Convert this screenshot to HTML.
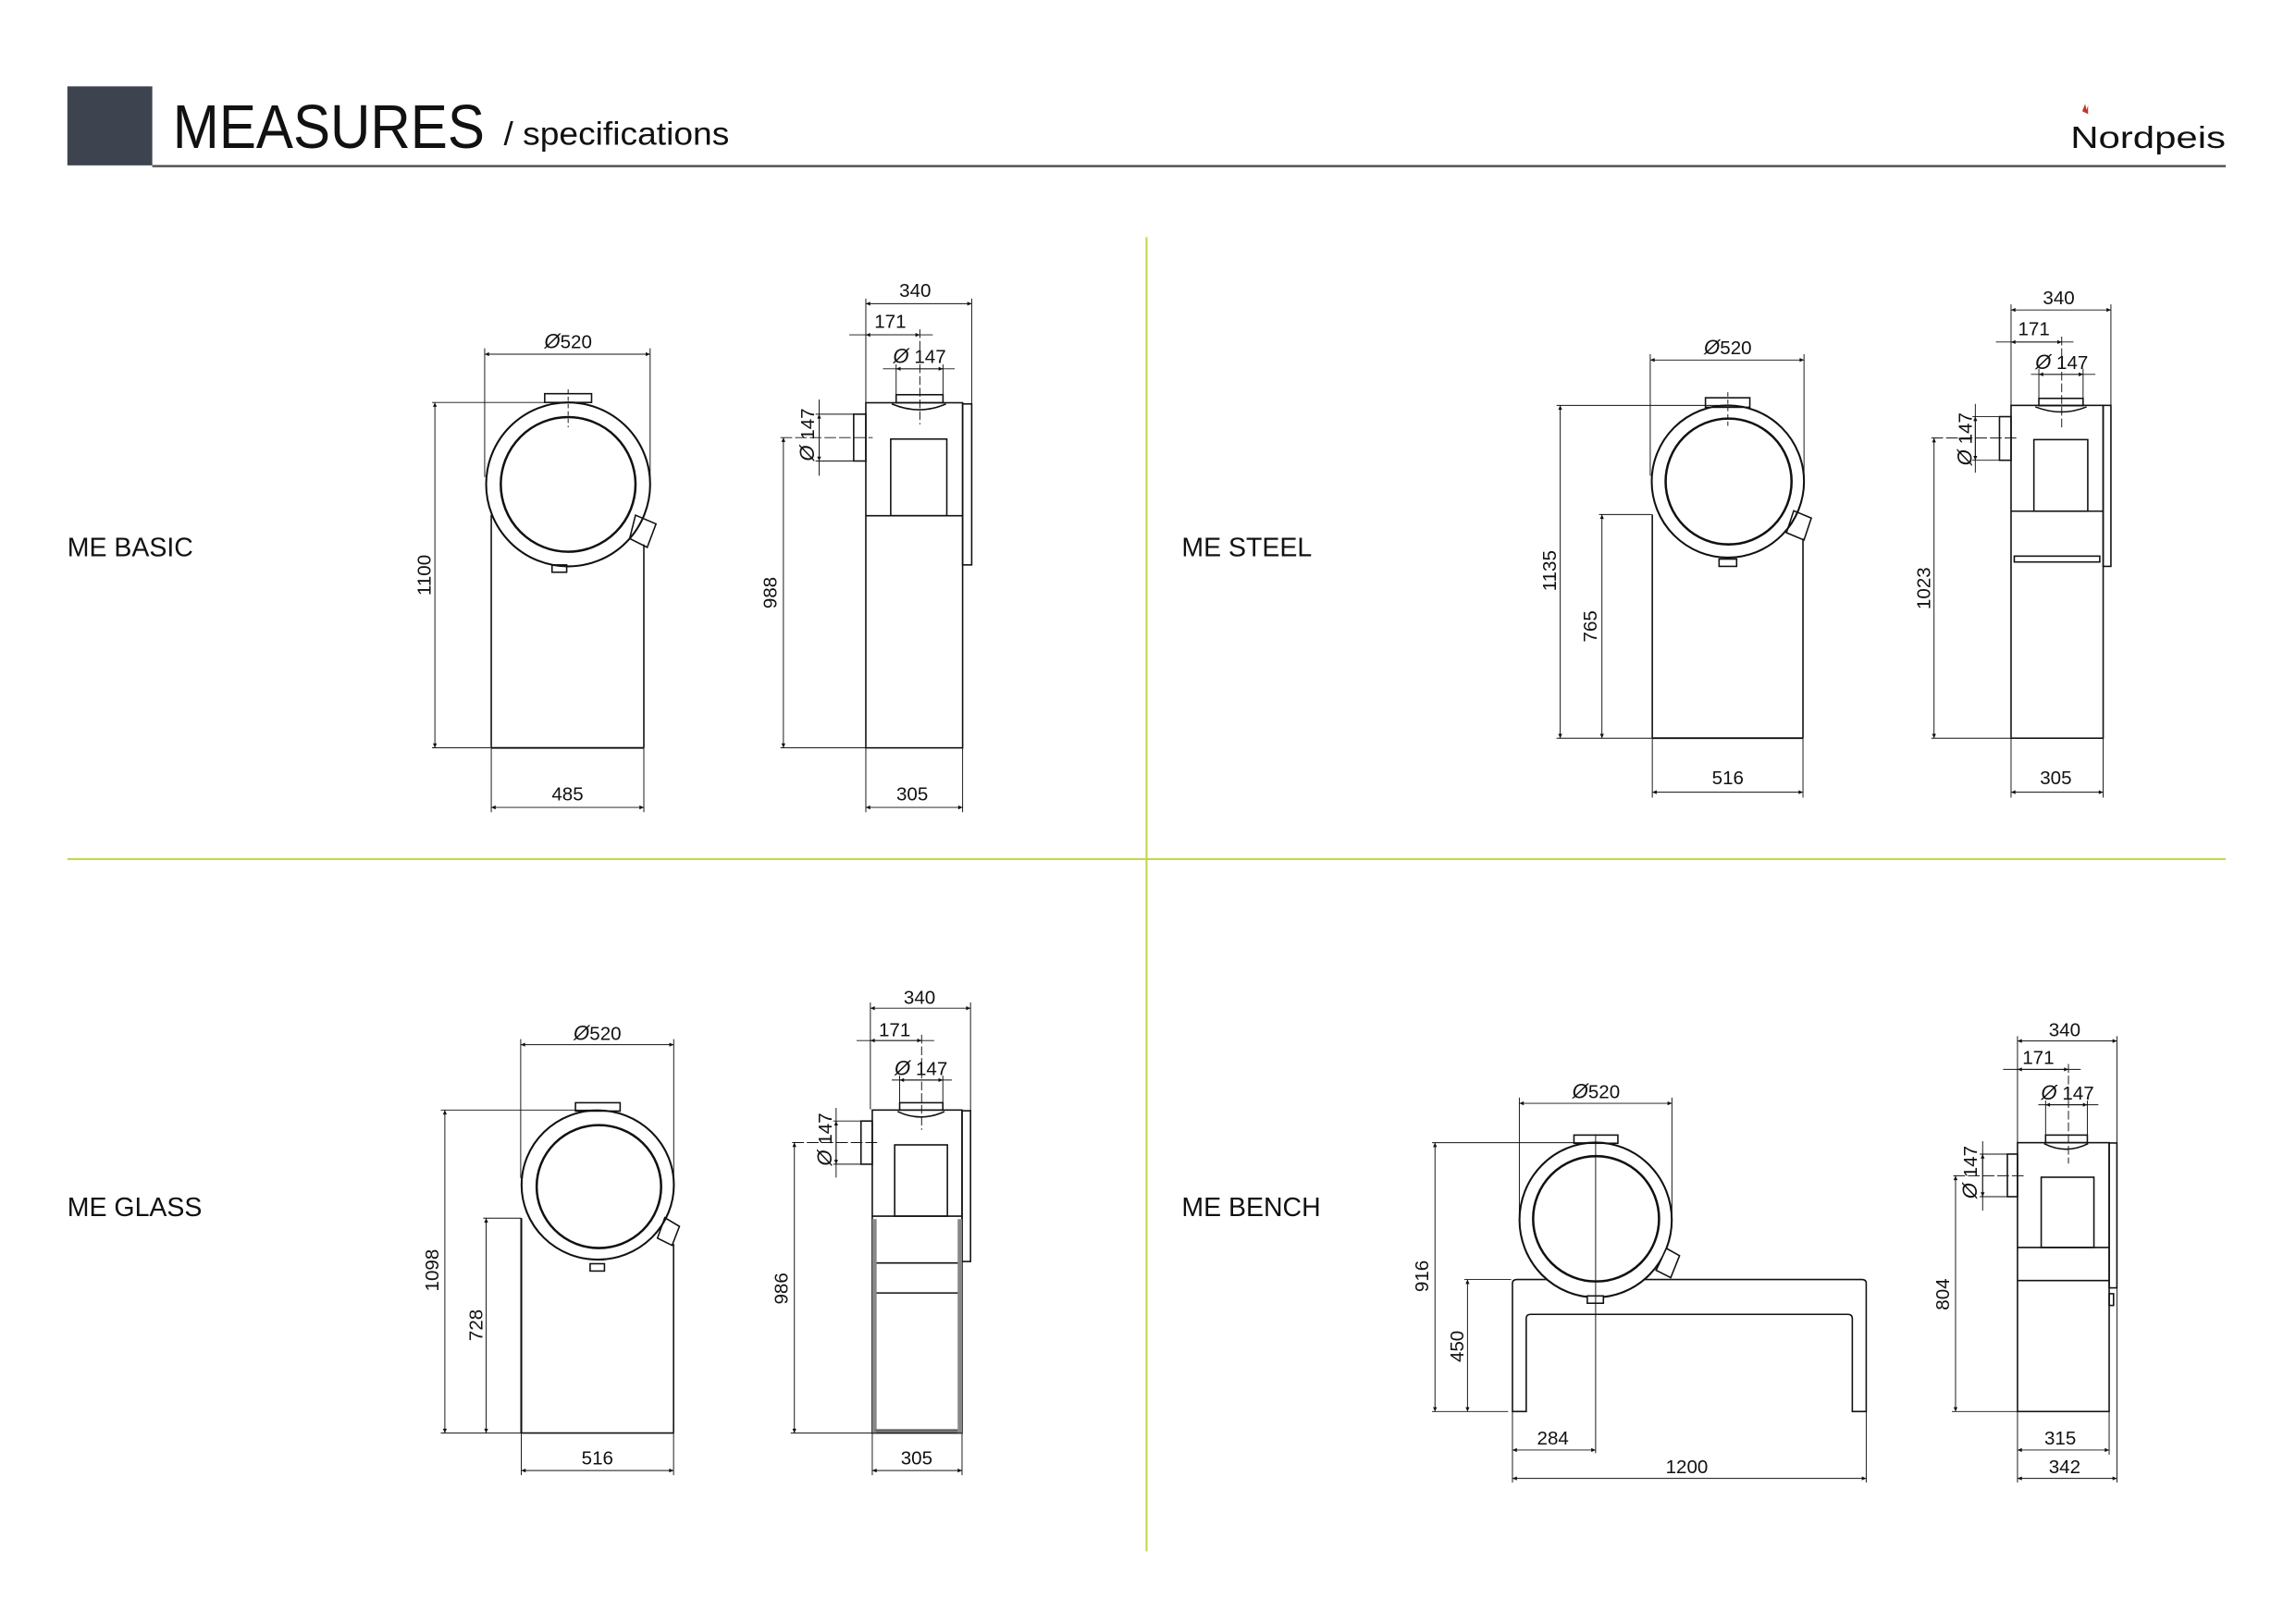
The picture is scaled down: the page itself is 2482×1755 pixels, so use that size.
<!DOCTYPE html>
<html><head><meta charset="utf-8"><style>
html,body{margin:0;padding:0;background:#fff;}
svg{display:block;}
text{font-family:"Liberation Sans","DejaVu Sans",sans-serif;fill:#111;}
.d{font-size:13px;}
.l{font-size:18px;}
.o{font-style:italic;font-size:14px;}
</style></head><body>
<svg width="2482" height="1755" viewBox="0 0 1568 1109" preserveAspectRatio="none" xmlns="http://www.w3.org/2000/svg">
<defs>
<marker id="a" viewBox="0 0 10 10" refX="10" refY="5" markerWidth="6" markerHeight="3" orient="auto-start-reverse" markerUnits="userSpaceOnUse"><path d="M0,0.5 L10,5 L0,9.5z" fill="#111"/></marker>
</defs>
<rect width="1568" height="1109" fill="#fff"/>
<!-- header -->
<rect x="46" y="59" width="58" height="54" fill="#3d4450"/>
<line x1="104" y1="113.5" x2="1520" y2="113.5" stroke="#555" stroke-width="1.6"/>
<text x="118" y="101" font-size="42" textLength="213" lengthAdjust="spacingAndGlyphs">MEASURES</text>
<text x="344" y="99" font-size="22" textLength="154" lengthAdjust="spacingAndGlyphs">/ specifications</text>
<text x="1414" y="101" font-size="21" textLength="106" lengthAdjust="spacingAndGlyphs" fill="#333">Nordpeis</text>
<path d="M1422,76 l2,-5 l1,4 l1,-3 l0,6z" fill="#c0392b"/>
<!-- dividers -->
<line x1="783" y1="162" x2="783" y2="1060" stroke="#c5d64a" stroke-width="1.3"/>
<line x1="46" y1="587" x2="1520" y2="587" stroke="#c5d64a" stroke-width="1.3"/>
<!-- labels -->
<text class="l" x="46" y="380">ME BASIC</text>
<text class="l" x="807" y="380">ME STEEL</text>
<text class="l" x="46" y="831">ME GLASS</text>
<text class="l" x="807" y="831">ME BENCH</text>

<g stroke="#111" fill="none" stroke-width="0.6">
<!-- ===== BASIC front ===== -->
<line x1="331" y1="242" x2="444" y2="242" marker-start="url(#a)" marker-end="url(#a)"/>
<line x1="331" y1="238" x2="331" y2="326"/><line x1="444" y1="238" x2="444" y2="330"/>
<line x1="297" y1="275" x2="297" y2="511" marker-start="url(#a)" marker-end="url(#a)"/>
<line x1="295" y1="275" x2="380" y2="275"/><line x1="295" y1="511" x2="335" y2="511"/>
<line x1="335.5" y1="551.7" x2="439.7" y2="551.7" marker-start="url(#a)" marker-end="url(#a)"/>
<line x1="335.5" y1="511" x2="335.5" y2="555"/><line x1="439.7" y1="511" x2="439.7" y2="555"/>
<g stroke-width="1">
<circle cx="388" cy="331" r="56" stroke-width="1.3"/>
<circle cx="388" cy="331" r="46" stroke-width="1.6"/>
<rect x="372" y="269" width="32" height="6"/>
<line x1="335.5" y1="352" x2="335.5" y2="511"/><line x1="439.7" y1="372" x2="439.7" y2="511"/>
<line x1="335.5" y1="511" x2="439.7" y2="511" stroke-width="1.2"/>
<polygon points="434,352 448,358 442,374 430,368"/>
<rect x="377" y="386" width="10" height="5"/>
</g>
<line x1="388" y1="266" x2="388" y2="292" stroke-dasharray="3,2"/>
<!-- ===== BASIC side ===== -->
<line x1="591.3" y1="207.5" x2="663.6" y2="207.5" marker-start="url(#a)" marker-end="url(#a)"/>
<line x1="591.3" y1="204" x2="591.3" y2="275"/><line x1="663.6" y1="204" x2="663.6" y2="276"/>
<line x1="580" y1="228.8" x2="637" y2="228.8"/>
<line x1="591.3" y1="228.8" x2="628.2" y2="228.8" marker-start="url(#a)" marker-end="url(#a)"/>
<line x1="628.2" y1="225" x2="628.2" y2="290" stroke-dasharray="6,2"/>
<line x1="603" y1="252" x2="652" y2="252"/>
<line x1="612" y1="252" x2="644" y2="252" marker-start="url(#a)" marker-end="url(#a)"/>
<line x1="612" y1="249" x2="612" y2="270"/><line x1="644" y1="249" x2="644" y2="270"/>
<line x1="557" y1="283" x2="583" y2="283"/><line x1="557" y1="315" x2="583" y2="315"/>
<line x1="559.4" y1="273" x2="559.4" y2="325"/>
<line x1="559.4" y1="283" x2="559.4" y2="315" marker-start="url(#a)" marker-end="url(#a)"/>
<line x1="533" y1="299" x2="596" y2="299" stroke-dasharray="8,2"/>
<line x1="535" y1="299" x2="535" y2="511" marker-start="url(#a)" marker-end="url(#a)"/>
<line x1="533" y1="511" x2="591" y2="511"/>
<line x1="591.3" y1="551.7" x2="657.4" y2="551.7" marker-start="url(#a)" marker-end="url(#a)"/>
<line x1="591.3" y1="511" x2="591.3" y2="555"/><line x1="657.4" y1="511" x2="657.4" y2="555"/>
<g stroke-width="1">
<rect x="612" y="269.7" width="32" height="5.5"/>
<rect x="591.3" y="275.2" width="66.1" height="235.8"/>
<rect x="657.4" y="276" width="6.2" height="110"/>
<line x1="591.3" y1="352.4" x2="657.4" y2="352.4"/>
<rect x="608.3" y="300" width="38.3" height="52.4"/>
<rect x="583" y="283" width="8.3" height="32"/>
<path d="M609,276 Q628,284 646,276"/>
</g>
<!-- ===== STEEL front ===== -->
<line x1="1127" y1="246" x2="1232" y2="246" marker-start="url(#a)" marker-end="url(#a)"/>
<line x1="1127" y1="242" x2="1127" y2="325"/><line x1="1232" y1="242" x2="1232" y2="330"/>
<line x1="1065.5" y1="277" x2="1065.5" y2="504.4" marker-start="url(#a)" marker-end="url(#a)"/>
<line x1="1063" y1="277" x2="1179" y2="277"/><line x1="1063" y1="504.4" x2="1128" y2="504.4"/>
<line x1="1094" y1="351.6" x2="1094" y2="504.4" marker-start="url(#a)" marker-end="url(#a)"/>
<line x1="1092" y1="351.6" x2="1128" y2="351.6"/>
<line x1="1128.4" y1="541.3" x2="1231.3" y2="541.3" marker-start="url(#a)" marker-end="url(#a)"/>
<line x1="1128.4" y1="504.4" x2="1128.4" y2="545"/><line x1="1231.3" y1="504.4" x2="1231.3" y2="545"/>
<g stroke-width="1">
<circle cx="1180" cy="329" r="52" stroke-width="1.3"/>
<circle cx="1180.5" cy="329" r="43" stroke-width="1.6"/>
<rect x="1164.7" y="271.8" width="30.3" height="6.5"/>
<line x1="1128.4" y1="351.6" x2="1128.4" y2="504.4"/><line x1="1231.3" y1="368" x2="1231.3" y2="504.4"/>
<line x1="1128.4" y1="504.4" x2="1231.3" y2="504.4" stroke-width="1.2"/>
<polygon points="1225,349 1237,354 1232,369 1220,364"/>
<rect x="1174" y="382" width="12" height="5"/>
</g>
<line x1="1180" y1="268" x2="1180" y2="292" stroke-dasharray="3,2"/>
<!-- ===== STEEL side ===== -->
<line x1="1373.4" y1="211.8" x2="1441.6" y2="211.8" marker-start="url(#a)" marker-end="url(#a)"/>
<line x1="1373.4" y1="208" x2="1373.4" y2="277"/><line x1="1441.6" y1="208" x2="1441.6" y2="278"/>
<line x1="1363" y1="233.7" x2="1416" y2="233.7"/>
<line x1="1373.4" y1="233.7" x2="1408" y2="233.7" marker-start="url(#a)" marker-end="url(#a)"/>
<line x1="1408" y1="230" x2="1408" y2="292" stroke-dasharray="6,2"/>
<line x1="1387" y1="255.8" x2="1431" y2="255.8"/>
<line x1="1392.4" y1="255.8" x2="1422.6" y2="255.8" marker-start="url(#a)" marker-end="url(#a)"/>
<line x1="1392.4" y1="252" x2="1392.4" y2="272"/><line x1="1422.6" y1="252" x2="1422.6" y2="272"/>
<line x1="1347" y1="284.7" x2="1365.5" y2="284.7"/><line x1="1347" y1="314.5" x2="1365.5" y2="314.5"/>
<line x1="1349" y1="276" x2="1349" y2="323"/>
<line x1="1349" y1="284.7" x2="1349" y2="314.5" marker-start="url(#a)" marker-end="url(#a)"/>
<line x1="1319" y1="299.3" x2="1377" y2="299.3" stroke-dasharray="8,2"/>
<line x1="1320.8" y1="299.3" x2="1320.8" y2="504.4" marker-start="url(#a)" marker-end="url(#a)"/>
<line x1="1319" y1="504.4" x2="1373" y2="504.4"/>
<line x1="1373.4" y1="541.3" x2="1436.3" y2="541.3" marker-start="url(#a)" marker-end="url(#a)"/>
<line x1="1373.4" y1="504.4" x2="1373.4" y2="545"/><line x1="1436.3" y1="504.4" x2="1436.3" y2="545"/>
<g stroke-width="1">
<rect x="1392.4" y="272.2" width="30.2" height="5"/>
<rect x="1373.4" y="277" width="62.9" height="227.4"/>
<rect x="1436.3" y="277" width="5.3" height="110"/>
<line x1="1373.4" y1="349.3" x2="1436.3" y2="349.3"/>
<rect x="1375.6" y="380" width="58.4" height="4"/>
<rect x="1389" y="300.4" width="36.8" height="48.9"/>
<rect x="1365.5" y="284.7" width="7.9" height="29.8"/>
<path d="M1390,278 Q1408,285 1425,278"/>
</g>
<!-- ===== GLASS front ===== -->
<line x1="355.6" y1="713.8" x2="460.1" y2="713.8" marker-start="url(#a)" marker-end="url(#a)"/>
<line x1="355.6" y1="710" x2="355.6" y2="805"/><line x1="460.1" y1="710" x2="460.1" y2="810"/>
<line x1="303.8" y1="758.5" x2="303.8" y2="979.2" marker-start="url(#a)" marker-end="url(#a)"/>
<line x1="301" y1="758.5" x2="405" y2="758.5"/><line x1="301" y1="979.2" x2="356" y2="979.2"/>
<line x1="332" y1="832.4" x2="332" y2="979.2" marker-start="url(#a)" marker-end="url(#a)"/>
<line x1="330" y1="832.4" x2="356" y2="832.4"/>
<line x1="356" y1="1004.8" x2="460" y2="1004.8" marker-start="url(#a)" marker-end="url(#a)"/>
<line x1="356" y1="979.2" x2="356" y2="1008"/><line x1="460" y1="979.2" x2="460" y2="1008"/>
<g stroke-width="1">
<ellipse cx="408.2" cy="809.7" rx="52" ry="51" stroke-width="1.3"/>
<ellipse cx="409" cy="810.8" rx="42.5" ry="42" stroke-width="1.6"/>
<rect x="393" y="753.5" width="30.5" height="5.7"/>
<line x1="356" y1="832.4" x2="356" y2="979.2" stroke-width="1.3"/><line x1="460" y1="850" x2="460" y2="979.2"/>
<line x1="356" y1="979.2" x2="460" y2="979.2"/>
<polygon points="454,832 464,838 459,851 449,846"/>
<rect x="403" y="863.5" width="9.8" height="5"/>
</g>
<!-- ===== GLASS side ===== -->
<line x1="594.4" y1="688.9" x2="662.8" y2="688.9" marker-start="url(#a)" marker-end="url(#a)"/>
<line x1="594.4" y1="685" x2="594.4" y2="758"/><line x1="662.8" y1="685" x2="662.8" y2="759"/>
<line x1="585" y1="711" x2="638" y2="711"/>
<line x1="594.4" y1="711" x2="629.4" y2="711" marker-start="url(#a)" marker-end="url(#a)"/>
<line x1="629.4" y1="707" x2="629.4" y2="772" stroke-dasharray="6,2"/>
<line x1="609" y1="738" x2="650" y2="738"/>
<line x1="614.4" y1="738" x2="643.9" y2="738" marker-start="url(#a)" marker-end="url(#a)"/>
<line x1="614.4" y1="735" x2="614.4" y2="754"/><line x1="643.9" y1="735" x2="643.9" y2="754"/>
<line x1="569" y1="766" x2="588" y2="766"/><line x1="569" y1="795.5" x2="588" y2="795.5"/>
<line x1="571" y1="757" x2="571" y2="804.6"/>
<line x1="571" y1="766" x2="571" y2="795.5" marker-start="url(#a)" marker-end="url(#a)"/>
<line x1="541" y1="780.7" x2="600" y2="780.7" stroke-dasharray="8,2"/>
<line x1="542.5" y1="780.7" x2="542.5" y2="979.2" marker-start="url(#a)" marker-end="url(#a)"/>
<line x1="540" y1="979.2" x2="596" y2="979.2"/>
<line x1="595.7" y1="1004.8" x2="657" y2="1004.8" marker-start="url(#a)" marker-end="url(#a)"/>
<line x1="595.7" y1="979.2" x2="595.7" y2="1008"/><line x1="657" y1="979.2" x2="657" y2="1008"/>
<g stroke-width="1">
<rect x="614.4" y="753.5" width="29.5" height="5"/>
<rect x="595.7" y="758.5" width="61.3" height="220.7"/>
<rect x="657" y="759" width="5.8" height="103"/>
<line x1="595.7" y1="831" x2="657" y2="831"/>
<rect x="611" y="782.3" width="36" height="48.7"/>
<line x1="597" y1="863" x2="655" y2="863"/>
<line x1="597" y1="883.5" x2="655" y2="883.5"/>
<rect x="588" y="766" width="7.7" height="29.5"/>
<path d="M613,759.5 Q629,767 645,759.5"/>
</g>
<rect x="595.7" y="833" width="3" height="146" fill="#888" stroke="none"/>
<rect x="654" y="833" width="3" height="146" fill="#888" stroke="none"/>
<rect x="598" y="976.5" width="56" height="2" fill="#666" stroke="none"/>
<!-- ===== BENCH front ===== -->
<line x1="1037.6" y1="753.9" x2="1141.8" y2="753.9" marker-start="url(#a)" marker-end="url(#a)"/>
<line x1="1037.6" y1="750" x2="1037.6" y2="830"/><line x1="1141.8" y1="750" x2="1141.8" y2="835"/>
<line x1="980" y1="780.8" x2="980" y2="964.5" marker-start="url(#a)" marker-end="url(#a)"/>
<line x1="978" y1="780.8" x2="1086" y2="780.8"/><line x1="978" y1="964.5" x2="1030" y2="964.5"/>
<line x1="1002.2" y1="874.3" x2="1002.2" y2="964.5" marker-start="url(#a)" marker-end="url(#a)"/>
<line x1="1000" y1="874.3" x2="1032" y2="874.3"/>
<line x1="1032.9" y1="990.8" x2="1089.7" y2="990.8" marker-start="url(#a)" marker-end="url(#a)"/>
<line x1="1032.9" y1="1010.2" x2="1274.5" y2="1010.2" marker-start="url(#a)" marker-end="url(#a)"/>
<line x1="1032.9" y1="964.5" x2="1032.9" y2="1013"/><line x1="1274.5" y1="964.5" x2="1274.5" y2="1013"/>
<g stroke-width="1">
<path d="M1032.9,964.5 L1032.9,877 Q1032.9,874.3 1036,874.3 L1271.5,874.3 Q1274.5,874.3 1274.5,877 L1274.5,964.5 L1265,964.5 L1265,901 Q1265,898.1 1262,898.1 L1045.3,898.1 Q1042.3,898.1 1042.3,901 L1042.3,964.5 Z" fill="#fff"/>
<ellipse cx="1089.7" cy="833.6" rx="52" ry="52.9" stroke-width="1.3" fill="#fff"/>
<ellipse cx="1090" cy="832.8" rx="43" ry="42.8" stroke-width="1.6"/>
<rect x="1074.9" y="775.6" width="30" height="5.6"/>
<polygon points="1138,853 1147,858 1141,873 1131,868" fill="#fff"/>
<rect x="1084" y="885.5" width="11" height="5" fill="#fff"/>
</g>
<line x1="1089.7" y1="775" x2="1089.7" y2="993"/>
<!-- ===== BENCH side ===== -->
<line x1="1377.8" y1="711.3" x2="1445.7" y2="711.3" marker-start="url(#a)" marker-end="url(#a)"/>
<line x1="1377.8" y1="708" x2="1377.8" y2="781"/><line x1="1445.7" y1="708" x2="1445.7" y2="781"/>
<line x1="1368" y1="730.7" x2="1421" y2="730.7"/>
<line x1="1377.8" y1="730.7" x2="1412.6" y2="730.7" marker-start="url(#a)" marker-end="url(#a)"/>
<line x1="1412.6" y1="727" x2="1412.6" y2="795" stroke-dasharray="6,2"/>
<line x1="1392" y1="754.9" x2="1433" y2="754.9"/>
<line x1="1397" y1="754.9" x2="1425.5" y2="754.9" marker-start="url(#a)" marker-end="url(#a)"/>
<line x1="1397" y1="752" x2="1397" y2="776"/><line x1="1425.5" y1="752" x2="1425.5" y2="776"/>
<line x1="1352" y1="788.6" x2="1371" y2="788.6"/><line x1="1352" y1="817.7" x2="1371" y2="817.7"/>
<line x1="1354" y1="779.8" x2="1354" y2="827.2"/>
<line x1="1354" y1="788.6" x2="1354" y2="817.7" marker-start="url(#a)" marker-end="url(#a)"/>
<line x1="1334" y1="803.4" x2="1382" y2="803.4" stroke-dasharray="8,2"/>
<line x1="1335.5" y1="803.4" x2="1335.5" y2="964.5" marker-start="url(#a)" marker-end="url(#a)"/>
<line x1="1333" y1="964.5" x2="1378" y2="964.5"/>
<line x1="1377.8" y1="990.8" x2="1440.4" y2="990.8" marker-start="url(#a)" marker-end="url(#a)"/>
<line x1="1377.8" y1="1010.2" x2="1445.7" y2="1010.2" marker-start="url(#a)" marker-end="url(#a)"/>
<line x1="1377.8" y1="964.5" x2="1377.8" y2="1013"/><line x1="1440.4" y1="964.5" x2="1440.4" y2="994"/>
<line x1="1445.7" y1="880" x2="1445.7" y2="1013"/>
<g stroke-width="1">
<rect x="1397" y="775.6" width="28.5" height="5.2"/>
<rect x="1377.8" y="780.8" width="62.6" height="183.7"/>
<rect x="1440.4" y="781" width="5.3" height="99"/>
<line x1="1377.8" y1="852.4" x2="1440.4" y2="852.4"/>
<line x1="1377.8" y1="875" x2="1440.4" y2="875"/>
<rect x="1394" y="804.4" width="36" height="48"/>
<rect x="1370.9" y="788.6" width="6.9" height="29.1"/>
<rect x="1440.4" y="884" width="3" height="8"/>
<path d="M1396,781.5 Q1411,789 1426,781.5"/>
</g>
</g>

<!-- dimension texts -->
<g class="d" text-anchor="middle">
<text x="388" y="238" class="d"><tspan class="o">Ø</tspan>520</text>
<text x="387.6" y="547" class="d">485</text>
<text transform="translate(294,393) rotate(-90)" class="d">1100</text>
<text x="625" y="203" class="d">340</text>
<text x="608" y="224" class="d">171</text>
<text x="628" y="248" class="d"><tspan class="o">Ø</tspan> 147</text>
<text transform="translate(556,297) rotate(-90)" class="d"><tspan class="o">Ø</tspan> 147</text>
<text transform="translate(530.5,405) rotate(-90)" class="d">988</text>
<text x="623" y="547" class="d">305</text>

<text x="1180" y="242" class="d"><tspan class="o">Ø</tspan>520</text>
<text transform="translate(1062.5,390) rotate(-90)" class="d">1135</text>
<text transform="translate(1090.5,428) rotate(-90)" class="d">765</text>
<text x="1180" y="536" class="d">516</text>
<text x="1406" y="208" class="d">340</text>
<text x="1389" y="229" class="d">171</text>
<text x="1408" y="252" class="d"><tspan class="o">Ø</tspan> 147</text>
<text transform="translate(1346.5,300) rotate(-90)" class="d"><tspan class="o">Ø</tspan> 147</text>
<text transform="translate(1318,402) rotate(-90)" class="d">1023</text>
<text x="1404" y="536" class="d">305</text>

<text x="408" y="710.5" class="d"><tspan class="o">Ø</tspan>520</text>
<text transform="translate(299.5,868) rotate(-90)" class="d">1098</text>
<text transform="translate(329.5,905.5) rotate(-90)" class="d">728</text>
<text x="408" y="1000.5" class="d">516</text>
<text x="628" y="686" class="d">340</text>
<text x="611" y="708" class="d">171</text>
<text x="629" y="734.5" class="d"><tspan class="o">Ø</tspan> 147</text>
<text transform="translate(568,778.5) rotate(-90)" class="d"><tspan class="o">Ø</tspan> 147</text>
<text transform="translate(538,880.5) rotate(-90)" class="d">986</text>
<text x="626" y="1000.5" class="d">305</text>

<text x="1090" y="750.5" class="d"><tspan class="o">Ø</tspan>520</text>
<text transform="translate(975.5,872) rotate(-90)" class="d">916</text>
<text transform="translate(999.5,920) rotate(-90)" class="d">450</text>
<text x="1060.5" y="987" class="d">284</text>
<text x="1152" y="1006.5" class="d">1200</text>
<text x="1410" y="708" class="d">340</text>
<text x="1392" y="727" class="d">171</text>
<text x="1412" y="751.5" class="d"><tspan class="o">Ø</tspan> 147</text>
<text transform="translate(1350,801) rotate(-90)" class="d"><tspan class="o">Ø</tspan> 147</text>
<text transform="translate(1331,884.4) rotate(-90)" class="d">804</text>
<text x="1407" y="987" class="d">315</text>
<text x="1410" y="1006.5" class="d">342</text>
</g>
</svg>
</body></html>
